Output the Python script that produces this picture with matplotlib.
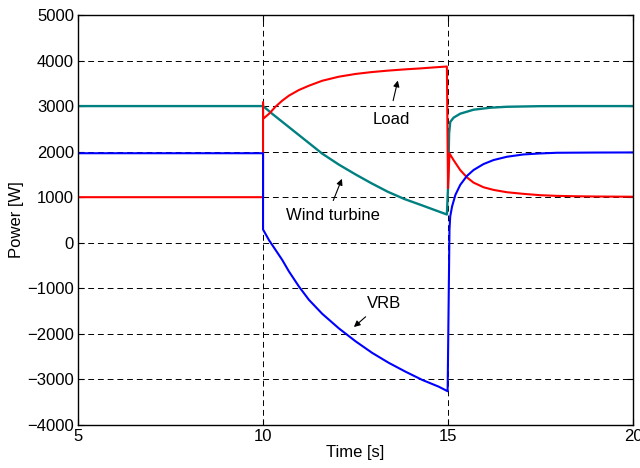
import numpy as np
import matplotlib
matplotlib.use("Agg")
import matplotlib.pyplot as plt

plt.rcParams['font.family'] = ['Liberation Sans', 'DejaVu Sans']
plt.rcParams['font.size'] = 12

# Load power [W]
load_t = [5, 10, 10, 10, 10.16, 10.34, 10.52, 10.7, 10.97, 11.24, 11.6, 12.05, 12.5, 12.92, 13.37,
          13.82, 14.27, 14.6, 14.97, 15, 15.04, 15.15, 15.33, 15.51, 15.69, 15.96, 16.23, 16.59,
          17.04, 17.49, 17.94, 18.5, 19, 20]
load_p = [1000, 1000, 3080, 2720, 2829, 2989, 3120, 3229, 3353, 3447, 3556, 3645, 3705, 3745, 3778,
          3805, 3828, 3848, 3869, 1200, 1960, 1815, 1596, 1436, 1320, 1218, 1160, 1109,
          1073, 1044, 1029, 1020, 1015, 1010]

# Wind turbine power [W]
wind_t = [5, 10, 10.25, 10.7, 11.15, 11.6, 12.05, 12.5, 12.92, 13.37, 13.82, 14.27, 14.6, 14.97,
          15, 15.03, 15.06, 15.15, 15.33, 15.69, 16.14, 16.59, 17.49, 18.5, 20]
wind_p = [3000, 3000, 2829, 2538, 2247, 1956, 1715, 1500, 1310, 1120, 960, 829, 730, 620,
          1196, 2400, 2651, 2745, 2833, 2920, 2964, 2985, 2998, 3000, 3000]

# VRB power [W]
vrb_t = [5, 10, 10, 10.16, 10.34, 10.52, 10.7, 10.97, 11.24, 11.6, 12.05, 12.5, 12.95, 13.4,
         13.85, 14.3, 14.75, 14.99, 15.04, 15.06, 15.11, 15.2, 15.33, 15.51, 15.69, 15.96, 16.23,
         16.59, 17.04, 17.49, 17.94, 19, 20]
vrb_p = [1965, 1965, 291, 58, -160, -379, -630, -961, -1253, -1560, -1880, -2163, -2418, -2637,
         -2830, -3010, -3160, -3260, 287, 578, 796, 1051, 1269, 1465, 1596, 1727, 1815,
         1887, 1938, 1960, 1975, 1980, 1982]

fig = plt.figure(figsize=(6.4, 4.68), dpi=100)
ax = fig.add_axes([0.122, 0.092, 0.867, 0.876])

ax.plot(wind_t, wind_p, color='#008080', lw=1.7)
ax.plot(load_t, load_p, color='#ff0000', lw=1.5)
ax.plot(vrb_t, vrb_p, color='#0000ff', lw=1.5)

ax.set_xlim(5, 20)
ax.set_ylim(-4000, 5000)
ax.set_xticks([5, 10, 15, 20])
ax.set_yticks(np.arange(-4000, 5001, 1000))
ax.grid(True, color='k', linestyle=(0, (6, 4)), lw=0.7)
ax.set_axisbelow(True)
ax.tick_params(direction='in', top=True, right=True, length=4, pad=3)
for s in ax.spines.values():
    s.set_linewidth(1.0)

ax.set_xlabel('Time [s]', labelpad=1)
ax.set_ylabel('Power [W]', labelpad=2)

arr = dict(arrowstyle='-|>', color='k', lw=0.8, mutation_scale=9)
ax.annotate('', xy=(13.66, 3620), xytext=(13.50, 3060), arrowprops=arr)
ax.text(13.47, 2710, 'Load', ha='center', va='center')
ax.annotate('', xy=(12.16, 1460), xytext=(11.87, 870), arrowprops=arr)
ax.text(11.89, 595, 'Wind turbine', ha='center', va='center')
ax.annotate('', xy=(12.40, -1890), xytext=(12.83, -1585), arrowprops=arr)
ax.text(13.28, -1343, 'VRB', ha='center', va='center')

fig.savefig('out.png', dpi=100)
